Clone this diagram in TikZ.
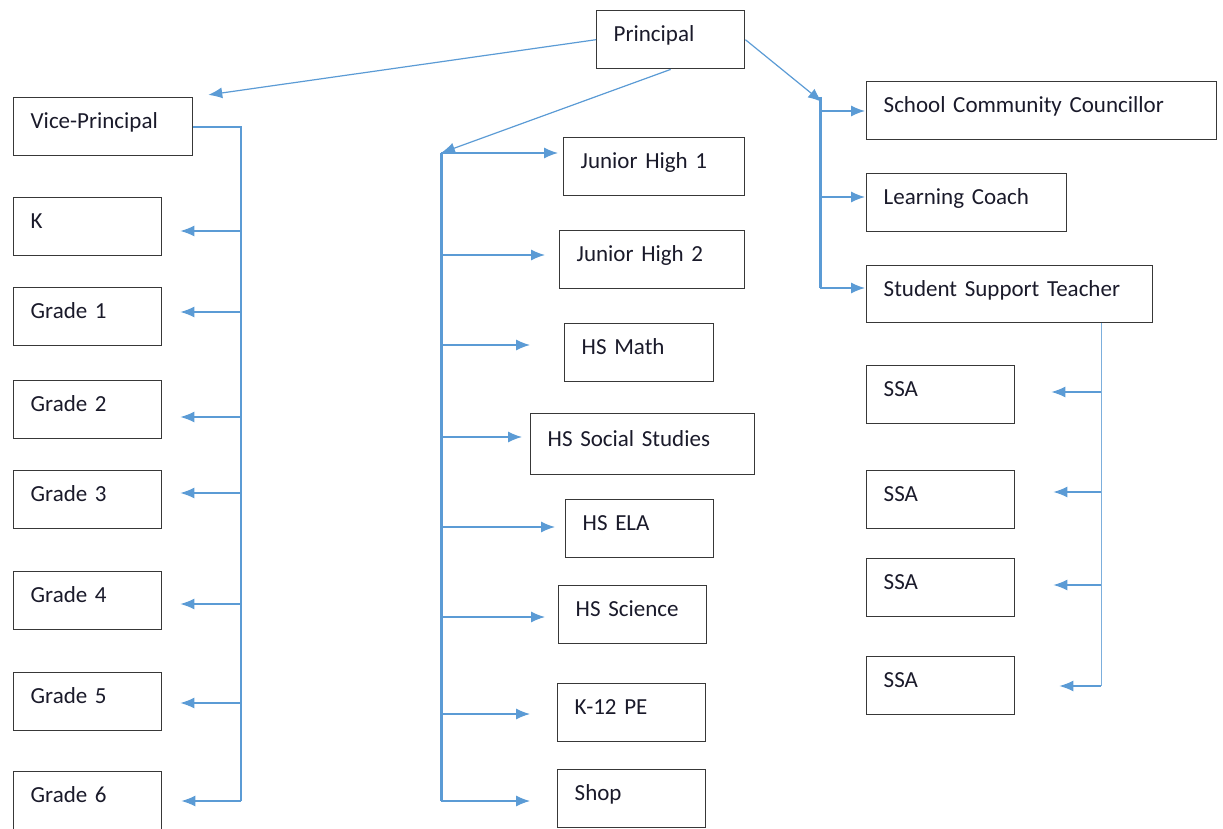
\documentclass[tikz,border=0pt]{standalone}
\usepackage{fontspec}
\setmainfont{Carlito}
\usetikzlibrary{arrows.meta,positioning}
\definecolor{linkblue}{HTML}{5B9BD5}
\definecolor{boxgray}{HTML}{383838}
\definecolor{inkc}{HTML}{1A1A2A}

\begin{document}
\begin{tikzpicture}[x=1pt,y=-1pt]
  \tikzstyle{box}=[draw=boxgray, line width=1.4pt, text=inkc, font=\fontsize{23}{27}\selectfont,
    inner xsep=17pt, inner ysep=0pt, minimum height=58pt, text height=16pt, text depth=12pt,
    align=left, anchor=north west]
  \tikzstyle{arr}=[-{Latex[length=14pt,width=11pt]}, draw=linkblue, line width=1.2pt]
  \tikzstyle{bus}=[draw=linkblue, line width=3pt]
  \useasboundingbox (0,0) rectangle (1223,829);

  % top
  \node[box, text width=114pt] (prin) at (596,10) {Principal};

  % left column
  \node[box, text width=145pt] (vp) at (13,97)  {Vice-Principal};
  \node[box, text width=114pt] (k)  at (13,197) {K};
  \node[box, text width=114pt] (g1) at (13,287) {Grade 1};
  \node[box, text width=114pt] (g2) at (13,380) {Grade 2};
  \node[box, text width=114pt] (g3) at (13,470) {Grade 3};
  \node[box, text width=114pt] (g4) at (13,571) {Grade 4};
  \node[box, text width=114pt] (g5) at (13,672) {Grade 5};
  \node[box, text width=114pt] (g6) at (13,771) {Grade 6};

  % middle column
  \node[box, text width=147pt] (jh1)  at (563,137) {Junior High 1};
  \node[box, text width=151pt] (jh2)  at (559,230) {Junior High 2};
  \node[box, text width=115pt] (hsm)  at (564,323) {HS Math};
  \node[box, text width=190pt, minimum height=61pt] (hss) at (530,413) {HS Social Studies};
  \node[box, text width=114pt] (ela)  at (565,499) {HS ELA};
  \node[box, text width=114pt] (sci)  at (558,585) {HS Science};
  \node[box, text width=114pt] (pe)   at (557,683) {K-12 PE};
  \node[box, text width=114pt] (shop) at (557,769) {Shop};

  % right column
  \node[box, text width=316pt] (scc)  at (866,81)  {School Community Councillor};
  \node[box, text width=166pt] (lc)   at (866,173) {Learning Coach};
  \node[box, text width=252pt, minimum height=57pt] (sst) at (866,265) {Student Support Teacher};
  \node[box, text width=114pt] (ssa1) at (866,365) {SSA};
  \node[box, text width=114pt] (ssa2) at (866,470) {SSA};
  \node[box, text width=114pt] (ssa3) at (866,558) {SSA};
  \node[box, text width=114pt] (ssa4) at (866,656) {SSA};

  % bus points
  \coordinate (lbot) at (241,801);
  \coordinate (lk)  at (241,231);
  \coordinate (lg1) at (241,312);
  \coordinate (lg2) at (241,417);
  \coordinate (lg3) at (241,493);
  \coordinate (lg4) at (241,604);
  \coordinate (lg5) at (241,703);

  \coordinate (mtop)  at (441,153);
  \coordinate (mbot)  at (441,801);
  \coordinate (mjh2)  at (441,255);
  \coordinate (mhsm)  at (441,345);
  \coordinate (mhss)  at (441,437);
  \coordinate (mela)  at (441,527);
  \coordinate (msci)  at (441,617);
  \coordinate (mpe)   at (441,714);

  \coordinate (rtop)  at (820,97);
  \coordinate (rtip)  at (822,102);
  \coordinate (rscc)  at (820,111);
  \coordinate (rlc)   at (820,197);
  \coordinate (rbot)  at (820,288);

  \coordinate (s1)   at (1101,392);
  \coordinate (s2)   at (1101,492);
  \coordinate (s3)   at (1101,585);
  \coordinate (sbot) at (1101,686);

  % principal
  \draw[arr, shorten >=15pt] (prin.west) -- (vp.north east);
  \draw[arr] (prin.south) -- (mtop);
  \draw[arr] (prin.east) -- (rtip);

  % vice-principal
  \draw[draw=linkblue, line width=2pt] (vp.east) -| (lbot);
  \draw[arr, shorten >=18pt] (lk)  -- (lk -| k.east);
  \draw[arr, shorten >=18pt] (lg1) -- (lg1 -| g1.east);
  \draw[arr, shorten >=18pt] (lg2) -- (lg2 -| g2.east);
  \draw[arr, shorten >=18pt] (lg3) -- (lg3 -| g3.east);
  \draw[arr, shorten >=18pt] (lg4) -- (lg4 -| g4.east);
  \draw[arr, shorten >=18pt] (lg5) -- (lg5 -| g5.east);
  \draw[arr, shorten >=19pt] (lbot) -- (lbot -| g6.east);

  % high school
  \draw[bus] (mtop) -- (mbot);
  \draw[arr, shorten >=5pt]  (mtop) -- (mtop -| jh1.west);
  \draw[arr, shorten >=14pt] (mjh2) -- (mjh2 -| jh2.west);
  \draw[arr, shorten >=34pt] (mhsm) -- (mhsm -| hsm.west);
  \draw[arr, shorten >=8pt]  (mhss) -- (mhss -| hss.west);
  \draw[arr, shorten >=10pt] (mela) -- (mela -| ela.west);
  \draw[arr, shorten >=13pt] (msci) -- (msci -| sci.west);
  \draw[arr, shorten >=27pt] (mpe)  -- (mpe -| pe.west);
  \draw[arr, shorten >=27pt] (mbot) -- (mbot -| shop.west);

  % support staff
  \draw[bus] (rtop) -- (rbot);
  \draw[arr, shorten >=1pt] (rscc) -- (rscc -| scc.west);
  \draw[arr, shorten >=1pt] (rlc)  -- (rlc -| lc.west);
  \draw[arr, shorten >=1pt] (rbot) -- (rbot -| sst.west);

  \draw[draw=linkblue!80, line width=1pt] (sst.south -| sbot) -- (sbot);
  \draw[arr, shorten >=36pt] (s1)   -- (s1 -| ssa1.east);
  \draw[arr, shorten >=38pt] (s2)   -- (s2 -| ssa2.east);
  \draw[arr, shorten >=38pt] (s3)   -- (s3 -| ssa3.east);
  \draw[arr, shorten >=44pt] (sbot) -- (sbot -| ssa4.east);
\end{tikzpicture}
\end{document}
